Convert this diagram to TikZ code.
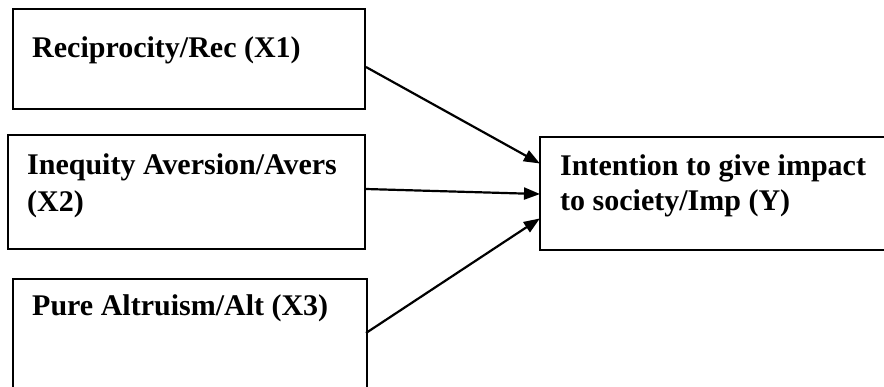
\documentclass[tikz,border=0pt]{standalone}
\usepackage{fontspec}
\setmainfont{Liberation Serif}
\usetikzlibrary{arrows.meta}
\tikzset{
  boxstyle/.style={draw=black, line width=2pt, rectangle, inner sep=0pt},
  lbl/.style={anchor=base west, inner sep=0pt, font=\fontsize{30}{34}\selectfont\bfseries},
  conn/.style={draw=black, line width=2.2pt, -{Triangle[length=16pt,width=12pt]}, shorten >=-1pt}
}
\begin{document}
\begin{tikzpicture}[x=1pt,y=-1pt]
\useasboundingbox (0,0) rectangle (884,386);
\clip (0,0) rectangle (884,386);
% boxes
\node[boxstyle, minimum width=352pt, minimum height=100pt, anchor=north west] (b1) at (12,8) {};
\node[boxstyle, minimum width=357pt, minimum height=114pt, anchor=north west] (b2) at (7,134) {};
\node[boxstyle, minimum width=354pt, minimum height=140pt, anchor=north west] (b3) at (12,278) {};
\node[boxstyle, minimum width=380pt, minimum height=113pt, anchor=north west] (y) at (539,136) {};
% texts
\node[lbl] (t1) at (32,57) {Reciprocity/Rec (X1)};
\node[lbl] (t2a) at (27,174) {Inequity Aversion/Avers};
\node[lbl] (t2b) at (27,211) {(X2)};
\node[lbl] (t3) at (32,315) {Pure Altruism/Alt (X3)};
\node[lbl] (ta) at (560,175) {Intention to give impact};
\node[lbl] (tb) at (560,210) {to society/Imp (Y)};
% connector end points
\coordinate (s1) at (366,67);
\coordinate (s2) at (366,189);
\coordinate (s3) at (366,333);
\coordinate (e1) at (539,163);
\coordinate (e2) at (539,194);
\coordinate (e3) at (539,219);
\draw[conn] (s1) -- (e1);
\draw[conn] (s2) -- (e2);
\draw[conn] (s3) -- (e3);
\end{tikzpicture}
\end{document}
